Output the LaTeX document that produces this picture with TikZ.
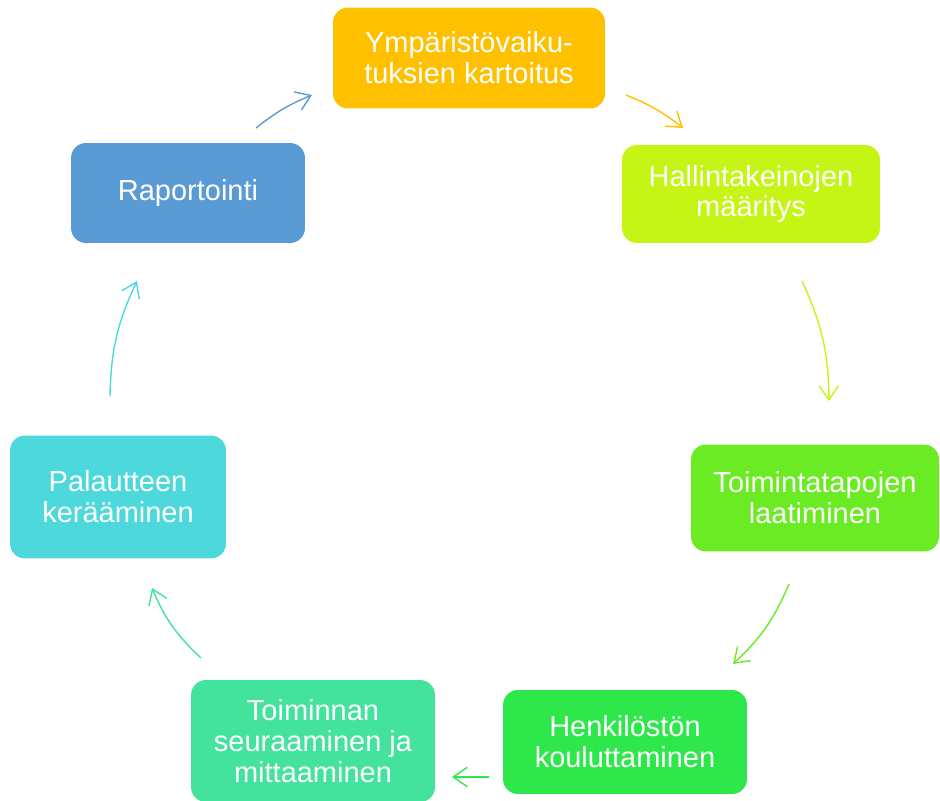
\documentclass[tikz,border=0pt]{standalone}
\usepackage{fontspec}
\setmainfont{Liberation Sans}
\usetikzlibrary{arrows.meta}
\usepackage{xcolor}

\definecolor{cOrange}{HTML}{FFC000}
\definecolor{cLime}{HTML}{C5F514}
\definecolor{cGreen}{HTML}{6BEB23}
\definecolor{cMint}{HTML}{2EE84B}
\definecolor{cSea}{HTML}{43E29D}
\definecolor{cCyan}{HTML}{4DD9DC}
\definecolor{cBlue}{HTML}{5B9BD5}

\begin{document}
\begin{tikzpicture}[x=0.02cm, y=0.02cm, >={Straight Barb[length=8pt, width=11pt]}]
				\tikzstyle{box} = [rounded corners=0.3cm, text=white, align=center, inner sep=0pt, font=\fontsize{16.5pt}{17.5pt}\selectfont]
				\tikzstyle{arr} = [->, line width=0.8pt]
				
				\useasboundingbox (0,0) rectangle (940,-801);
				
				\node[box, fill=cOrange, minimum width=5.44cm, minimum height=2.02cm] at (469,-58)	(kart)	{Ympäristövaiku-\\tuksien kartoitus};
				\node[box, fill=cLime, minimum width=5.16cm, minimum height=1.96cm]   at (751,-194)	(hall)	{Hallintakeinojen\\määritys};
				\node[box, fill=cGreen, minimum width=4.96cm, minimum height=2.14cm]  at (815,-498)	(toim)	{Toimintatapojen\\laatiminen};
				\node[box, fill=cMint, minimum width=4.88cm, minimum height=2.08cm]   at (625,-742)	(henk)	{Henkilöstön\\kouluttaminen};
				\node[box, fill=cSea, minimum width=4.88cm, minimum height=2.44cm]    at (313,-741)	(seur)	{Toiminnan\\seuraaminen ja\\mittaaminen};
				\node[box, fill=cCyan, minimum width=4.32cm, minimum height=2.46cm]   at (118,-497)	(pala)	{Palautteen\\kerääminen};
				\node[box, fill=cBlue, minimum width=4.68cm, minimum height=2.0cm]    at (188,-193)	(rapo)	{Raportointi};
				
				% arrow ends
				\coordinate (a1s) at (626,-95);		\coordinate (a1e) at (683,-128);
				\coordinate (a2s) at (802,-281);	\coordinate (a2e) at (829,-401);
				\coordinate (a3s) at (789,-584);	\coordinate (a3e) at (733,-664);
				\coordinate (a4s) at (489,-777);	\coordinate (a4e) at (452,-777);
				\coordinate (a5s) at (201,-658);	\coordinate (a5e) at (152,-588);
				\coordinate (a6s) at (110,-396);	\coordinate (a6e) at (137,-281);
				\coordinate (a7s) at (256,-128);	\coordinate (a7e) at (312,-95);
				
				\draw[arr, cOrange]	(a1s) to[bend left=8]	(a1e);
				\draw[arr, cLime]	(a2s) to[bend left=12]	(a2e);
				\draw[arr, cGreen]	(a3s) to[bend left=12]	(a3e);
				\draw[arr, cMint]	(a4s) to				(a4e);
				\draw[arr, cSea]	(a5s) to[bend left=12]	(a5e);
				\draw[arr, cCyan]	(a6s) to[bend left=12]	(a6e);
				\draw[arr, cBlue]	(a7s) to[bend left=8]	(a7e);
			\end{tikzpicture}
\end{document}
